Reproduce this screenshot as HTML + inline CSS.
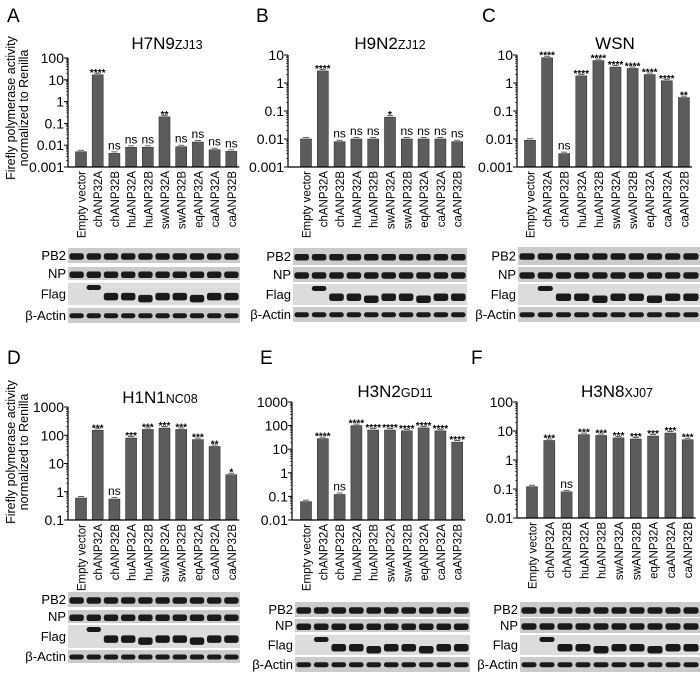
<!DOCTYPE html>
<html><head><meta charset="utf-8"><style>
html,body{margin:0;padding:0;background:#fff;}
svg{display:block;font-family:"Liberation Sans",Arial,sans-serif;}
</style></head><body>
<svg id="s" width="700" height="677" viewBox="0 0 700 677" xmlns="http://www.w3.org/2000/svg">
<text x="7" y="22" font-size="19">A</text>
<text x="256" y="22" font-size="19">B</text>
<text x="482" y="22" font-size="19">C</text>
<text x="7" y="364" font-size="19">D</text>
<text x="260" y="364" font-size="19">E</text>
<text x="471" y="364" font-size="19">F</text>
<text transform="translate(15,108) rotate(-90)" text-anchor="middle" font-size="12.5">Firefly polymerase activity</text>
<text transform="translate(28,108) rotate(-90)" text-anchor="middle" font-size="12.5">normalized to Renilla</text>
<text transform="translate(15,452) rotate(-90)" text-anchor="middle" font-size="12.5">Firefly polymerase activity</text>
<text transform="translate(28,452) rotate(-90)" text-anchor="middle" font-size="12.5">normalized to Renilla</text>
<text x="167" y="49" text-anchor="middle" font-size="17">H7N9<tspan font-size="12.5">ZJ13</tspan></text>
<text x="390" y="49" text-anchor="middle" font-size="17">H9N2<tspan font-size="12.5">ZJ12</tspan></text>
<text x="615" y="49" text-anchor="middle" font-size="17">WSN</text>
<text x="160" y="403" text-anchor="middle" font-size="17">H1N1<tspan font-size="12.5">NC08</tspan></text>
<text x="395" y="397" text-anchor="middle" font-size="17">H3N2<tspan font-size="12.5">GD11</tspan></text>
<text x="617" y="397" text-anchor="middle" font-size="17">H3N8<tspan font-size="12.5">XJ07</tspan></text>
<g id="g"></g>
</svg>
<script>
var cats=["Empty vector","chANP32A","chANP32B","huANP32A","huANP32B","swANP32A","swANP32B","eqANP32A","caANP32A","caANP32B"];
var P=[
{ax:68,top:58,bot:167,lo:-3,hi:2,x0:81,dx:16.7,v:[0.005,17,0.0042,0.008,0.008,0.2,0.0085,0.014,0.0062,0.0052],s:["","****","ns","ns","ns","**","ns","ns","ns","ns"],
 bx0:68,bx1:240,rows:[[248,263],[267,280],[283,305],[308,323]]},
{ax:288,top:55,bot:167,lo:-3,hi:1,x0:306,dx:16.8,v:[0.01,2.7,0.008,0.01,0.01,0.06,0.01,0.01,0.01,0.008],s:["","****","ns","ns","ns","*","ns","ns","ns","ns"],
 bx0:293,bx1:467,rows:[[248,265],[267,282],[284,305],[307,322]]},
{ax:517,top:55,bot:167,lo:-3,hi:1,x0:530,dx:17.1,v:[0.009,8,0.003,1.8,6.3,3.7,3.3,2,1.2,0.3],s:["","****","ns","****","****","****","****","****","****","**"],
 bx0:518,bx1:700,rows:[[247,265],[267,282],[284,305],[307,322]]},
{ax:68,top:407,bot:520,lo:-1,hi:3,x0:81,dx:16.7,v:[0.6,150,0.55,80,160,180,160,70,40,4],s:["","***","ns","***","***","***","***","***","**","*"],
 bx0:68,bx1:240,rows:[[592,607],[610,623],[625,648],[650,663]]},
{ax:292,top:402,bot:520,lo:-2,hi:3,x0:306,dx:16.8,v:[0.06,28,0.12,100,65,65,60,80,60,20],s:["","****","ns","****","****","****","****","****","****","****"],
 bx0:295,bx1:470,rows:[[602,617],[619,632],[635,655],[657,672]]},
{ax:517,top:402,bot:518,lo:-2,hi:2,x0:532,dx:17.3,v:[0.12,4.7,0.08,7.5,7,5.8,5.3,6.7,8.5,5],s:["","***","ns","***","***","***","***","***","***","***"],
 bx0:520,bx1:700,rows:[[602,617],[618,633],[635,655],[657,672]]}
];
var labs=["PB2","NP","Flag","β-Actin"];
var h="";
P.forEach(function(p){
 var n=p.hi-p.lo, d=(p.bot-p.top)/n;
 function Y(v){return p.bot-(Math.log10(v)-p.lo)*d;}
 p.v.forEach(function(v,i){
  var cx=p.x0+i*p.dx, y=Y(v);
  h+='<rect x="'+(cx-5.5)+'" y="'+y+'" width="11" height="'+(p.bot-y)+'" fill="#5c5c5c" stroke="#333" stroke-width="0.6"/>';
  h+='<line x1="'+(cx-3)+'" x2="'+(cx+3)+'" y1="'+(y-1.5)+'" y2="'+(y-1.5)+'" stroke="#333" stroke-width="0.8"/>';
  if(p.s[i]){
   if(p.s[i]=="ns") h+='<text x="'+cx+'" y="'+(y-4)+'" text-anchor="middle" font-size="12">ns</text>';
   else h+='<text x="'+cx+'" y="'+(y+1)+'" text-anchor="middle" font-size="10" font-weight="bold">'+p.s[i]+'</text>';
  }
  h+='<text transform="translate('+(cx+4.5)+','+(p.bot+4)+') rotate(-90)" text-anchor="end" font-size="11.5">'+cats[i]+'</text>';
 });
 h+='<line x1="'+p.ax+'" x2="'+p.ax+'" y1="'+p.top+'" y2="'+p.bot+'" stroke="#000" stroke-width="1.2"/>';
 h+='<line x1="'+p.ax+'" x2="'+(p.x0+9*p.dx+8)+'" y1="'+p.bot+'" y2="'+p.bot+'" stroke="#000" stroke-width="1.2"/>';
 for(var k=0;k<=n;k++){
  var y=p.bot-k*d, e=p.lo+k;
  var lab=e>=0?String(Math.pow(10,e)):(Math.pow(10,e)).toFixed(-e);
  h+='<line x1="'+(p.ax-4)+'" x2="'+p.ax+'" y1="'+y+'" y2="'+y+'" stroke="#000"/>';
  h+='<text x="'+(p.ax-4)+'" y="'+(y+5)+'" text-anchor="end" font-size="14">'+lab+'</text>';
  if(k<n){for(var m=2;m<10;m++){var yy=y-Math.log10(m)*d;h+='<line x1="'+(p.ax-2)+'" x2="'+p.ax+'" y1="'+yy+'" y2="'+yy+'" stroke="#000" stroke-width="0.6"/>';}}
 }
 var lw=(p.bx1-p.bx0)/10;
 p.rows.forEach(function(r,ri){
  var hgt=r[1]-r[0];
  h+='<rect x="'+p.bx0+'" y="'+r[0]+'" width="'+(p.bx1-p.bx0)+'" height="'+hgt+'" fill="'+(ri==2?'#dcdcdc':'#cbcbcb')+'"/>';
  h+='<text x="'+(p.bx0-2)+'" y="'+(r[0]+hgt/2+4.5)+'" text-anchor="end" font-size="13">'+labs[ri]+'</text>';
  for(var i=0;i<10;i++){
   var bx=p.bx0+i*lw+lw*0.08, bw=lw*0.84, by, bh;
   if(ri==2){ if(i==0) continue; if(i==1){by=r[0]+2;bh=5;} else {by=r[0]+hgt*0.45+(i%3==1?2:0);bh=7.5;} }
   else if(ri==3){by=r[0]+hgt*0.35;bh=5;}
   else {by=r[0]+hgt*0.35;bh=6.5;}
   h+='<rect x="'+bx+'" y="'+by+'" width="'+bw+'" height="'+bh+'" rx="2.5" fill="#1a1a1a"/>';
  }
 });
});
document.getElementById("g").innerHTML=h;
</script>
</body></html>
